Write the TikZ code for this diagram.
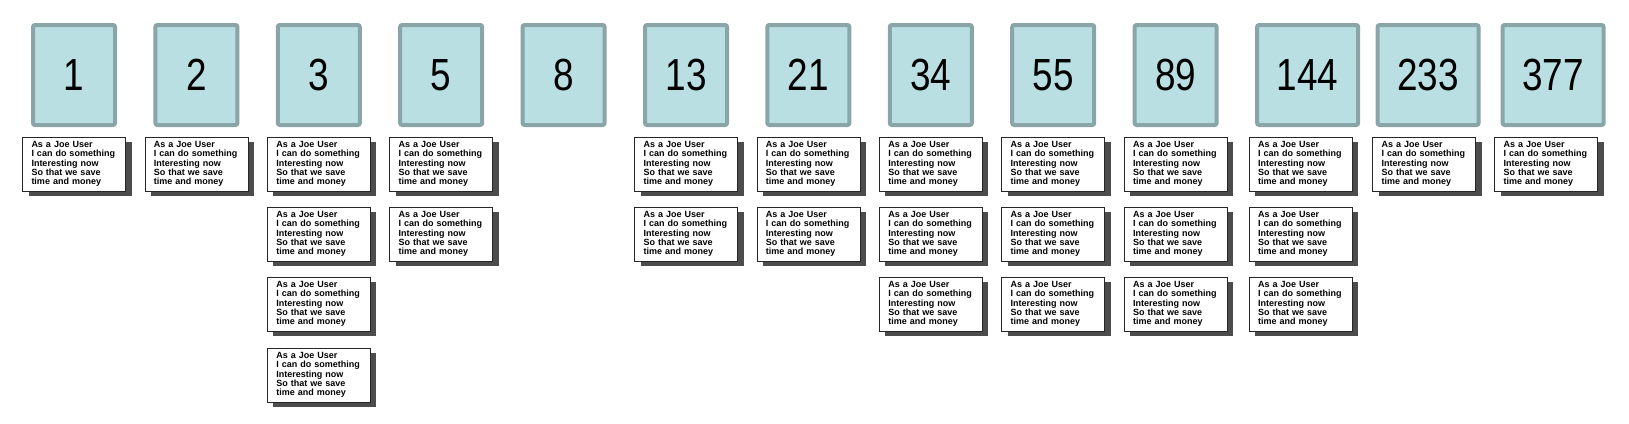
\documentclass[tikz,border=0pt]{standalone}
\usepackage{fontspec}
\setmainfont{Liberation Sans}
\newfontfamily\numfont[FakeStretch=0.82]{Liberation Sans}
\usepackage{tikz}
\usetikzlibrary{
  positioning,
  shadows
}
\definecolor{boxfill}{HTML}{B9DFE3}
\definecolor{boxline}{HTML}{8AA5A8}
\newcommand{\storytext}{As a Joe User\\I can do something\\Interesting now\\So that we save\\time and money}
\tikzset{
  node distance=122.4pt,
  numbox/.style={draw=boxline, fill=boxfill, line width=4pt, rounded corners=2pt,
    minimum width=82pt, minimum height=100pt, font=\numfont\fontsize{45}{50}\selectfont},
  widebox/.style={numbox, minimum width=101pt},
  story/.style={draw=black!85, fill=white, line width=0.8pt, text width=85pt,
    inner xsep=9pt, minimum height=54pt, align=left,
    font=\fontsize{9}{9.2}\selectfont\bfseries,
    drop shadow={shadow xshift=6pt, shadow yshift=-5pt, fill=black!70, opacity=1}}
}

\begin{document}
\begin{tikzpicture}[x=1pt, y=1pt]
    \useasboundingbox (0,0) rectangle (1629,-423);
    % estimate boxes
    \node[numbox] (n1) at (74,-75) {1};
    \node[numbox, right of=n1] (n2) {2};
    \node[numbox, right of=n2] (n3) {3};
    \node[numbox, right of=n3] (n5) {5};
    \node[numbox, right of=n5] (n8) {8};
    \node[numbox, right of=n8] (n13) {13};
    \node[numbox, right of=n13] (n21) {21};
    \node[numbox, right of=n21] (n34) {34};
    \node[numbox, right of=n34] (n55) {55};
    \node[numbox, right of=n55] (n89) {89};
    \node[widebox, node distance=132pt, right of=n89] (n144) {144};
    \node[widebox, node distance=120.5pt, right of=n144] (n233) {233};
    \node[widebox, node distance=125pt, right of=n233] (n377) {377};
    % user stories
    \node[story, node distance=89pt, below of=n1] (u1a) {\storytext};
    \node[story, node distance=89pt, below of=n2] (u2a) {\storytext};
    \node[story, node distance=89pt, below of=n3] (u3a) {\storytext};
    \node[story, node distance=70pt, below of=u3a] (u3b) {\storytext};
    \node[story, node distance=70pt, below of=u3b] (u3c) {\storytext};
    \node[story, node distance=71pt, below of=u3c] (u3d) {\storytext};
    \node[story, node distance=89pt, below of=n5] (u5a) {\storytext};
    \node[story, node distance=70pt, below of=u5a] (u5b) {\storytext};
    \node[story, node distance=89pt, below of=n13] (u13a) {\storytext};
    \node[story, node distance=70pt, below of=u13a] (u13b) {\storytext};
    \node[story, node distance=89pt, below of=n21] (u21a) {\storytext};
    \node[story, node distance=70pt, below of=u21a] (u21b) {\storytext};
    \node[story, node distance=89pt, below of=n34] (u34a) {\storytext};
    \node[story, node distance=70pt, below of=u34a] (u34b) {\storytext};
    \node[story, node distance=70pt, below of=u34b] (u34c) {\storytext};
    \node[story, node distance=89pt, below of=n55] (u55a) {\storytext};
    \node[story, node distance=70pt, below of=u55a] (u55b) {\storytext};
    \node[story, node distance=70pt, below of=u55b] (u55c) {\storytext};
    \node[story, node distance=89pt, below of=n89] (u89a) {\storytext};
    \node[story, node distance=70pt, below of=u89a] (u89b) {\storytext};
    \node[story, node distance=70pt, below of=u89b] (u89c) {\storytext};
    \node[story, node distance=89pt, below of=n144, xshift=-7pt] (u144a) {\storytext};
    \node[story, node distance=70pt, below of=u144a] (u144b) {\storytext};
    \node[story, node distance=70pt, below of=u144b] (u144c) {\storytext};
    \node[story, node distance=89pt, below of=n233, xshift=-4pt] (u233a) {\storytext};
    \node[story, node distance=89pt, below of=n377, xshift=-7pt] (u377a) {\storytext};
  \end{tikzpicture}
\end{document}
